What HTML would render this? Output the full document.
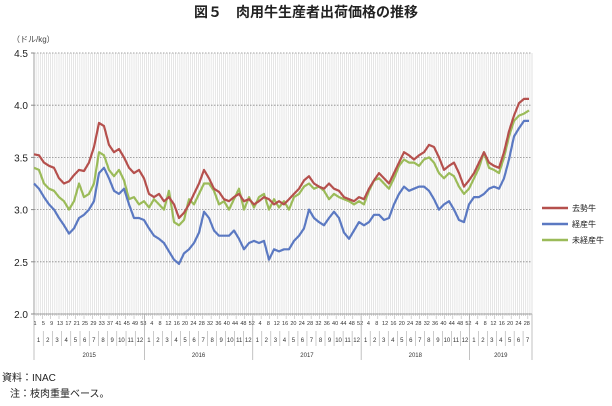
<!DOCTYPE html>
<html><head><meta charset="utf-8">
<style>
body{margin:0;background:#fff;width:612px;height:401px;overflow:hidden;font-family:"Liberation Sans","Noto Sans CJK JP",sans-serif;}
svg text{font-family:"Liberation Sans","Noto Sans CJK JP",sans-serif;}
</style></head>
<body>
<svg id="chart" width="612" height="401" viewBox="0 0 612 401">
<text x="306" y="17" text-anchor="middle" font-size="14" font-weight="bold" fill="#222">図５　肉用牛生産者出荷価格の推移</text>
<text x="12" y="42" font-size="8" fill="#444">（ドル/kg）</text>
<g id="grid"></g>
<g id="axes"></g>
<g id="series"></g>
<g>
<line x1="542" y1="208" x2="568" y2="208" stroke="#b5504d" stroke-width="2.5"/>
<text x="572" y="211" font-size="8" fill="#222">去勢牛</text>
<line x1="542" y1="224" x2="568" y2="224" stroke="#5b79c2" stroke-width="2.5"/>
<text x="572" y="227" font-size="8" fill="#222">経産牛</text>
<line x1="542" y1="240" x2="568" y2="240" stroke="#9bbb59" stroke-width="2.5"/>
<text x="572" y="243" font-size="8" fill="#222">未経産牛</text>
</g>
<text x="2" y="381" font-size="10" fill="#222">資料：INAC</text>
<text x="10" y="397" font-size="10" fill="#222">注：枝肉重量ベース。</text>
</svg>
<script>
const yTicks=[2.0,2.5,3.0,3.5,4.0,4.5];
const years=["2015","2016","2017","2018","2019"];
const yearWeeks=[53,52,52,52,30];
const yearMonths=[12,12,12,12,7];
const steer=[3.53,3.52,3.45,3.42,3.40,3.30,3.25,3.27,3.33,3.38,3.37,3.45,3.60,3.83,3.80,3.62,3.55,3.58,3.50,3.40,3.35,3.38,3.30,3.15,3.12,3.15,3.08,3.12,3.05,2.92,2.97,3.05,3.15,3.25,3.38,3.30,3.20,3.17,3.10,3.08,3.12,3.15,3.08,3.10,3.05,3.08,3.12,3.10,3.05,3.08,3.05,3.10,3.15,3.20,3.28,3.32,3.25,3.22,3.20,3.25,3.20,3.18,3.12,3.10,3.08,3.12,3.10,3.20,3.28,3.35,3.30,3.25,3.35,3.45,3.55,3.52,3.48,3.52,3.55,3.62,3.60,3.50,3.38,3.42,3.45,3.35,3.22,3.28,3.35,3.45,3.55,3.45,3.42,3.40,3.55,3.75,3.90,4.02,4.06,4.06];
const cow=[3.25,3.20,3.12,3.05,3.00,2.92,2.85,2.77,2.82,2.92,2.95,3.00,3.08,3.35,3.40,3.30,3.18,3.15,3.20,3.05,2.92,2.92,2.90,2.82,2.75,2.72,2.68,2.60,2.52,2.48,2.58,2.62,2.68,2.78,2.98,2.92,2.80,2.75,2.75,2.75,2.80,2.72,2.62,2.68,2.70,2.68,2.70,2.52,2.62,2.60,2.62,2.62,2.70,2.75,2.82,3.00,2.92,2.88,2.85,2.92,2.98,2.92,2.78,2.72,2.80,2.88,2.85,2.88,2.95,2.95,2.90,2.92,3.05,3.15,3.22,3.18,3.20,3.22,3.22,3.18,3.10,3.00,3.05,3.08,3.00,2.90,2.88,3.05,3.12,3.12,3.15,3.20,3.22,3.20,3.30,3.48,3.70,3.78,3.85,3.85];
const heifer=[3.40,3.38,3.25,3.20,3.18,3.12,3.08,3.00,3.08,3.25,3.12,3.15,3.25,3.55,3.52,3.38,3.32,3.38,3.28,3.10,3.12,3.05,3.08,3.02,3.10,3.05,3.00,3.18,2.88,2.85,2.90,3.10,3.05,3.15,3.25,3.25,3.18,3.05,3.08,3.00,3.10,3.20,3.00,3.12,3.02,3.12,3.15,3.00,3.10,3.02,3.08,3.00,3.12,3.15,3.22,3.25,3.20,3.22,3.18,3.10,3.15,3.12,3.10,3.08,3.05,3.08,3.05,3.18,3.28,3.30,3.25,3.20,3.30,3.42,3.48,3.45,3.45,3.42,3.48,3.50,3.45,3.35,3.30,3.35,3.32,3.22,3.15,3.20,3.30,3.40,3.55,3.40,3.38,3.35,3.50,3.70,3.85,3.90,3.92,3.95];

const NS="http://www.w3.org/2000/svg";
const X0=34,X1=532,Y0=314,Y1=53;
const totalWeeks=yearWeeks.reduce((a,b)=>a+b,0);
const yScale=v=>Y0-(v-2.0)/(4.5-2.0)*(Y0-Y1);
const wScale=w=>X0+w/totalWeeks*(X1-X0);
const xIdx=(i,n)=>X0+i/(n-1)*(529-X0);
function mk(tag,attrs,parent){const e=document.createElementNS(NS,tag);for(const k in attrs)e.setAttribute(k,attrs[k]);parent.appendChild(e);return e;}
const grid=document.getElementById('grid'),axes=document.getElementById('axes'),series=document.getElementById('series');
// weekly vertical gridlines
for(let w=1;w<totalWeeks;w++){
  const l=mk('line',{x1:wScale(w),x2:wScale(w),y1:Y1,y2:Y0,stroke:'#d6d6d6','stroke-width':0.6},grid);
  
  
}
mk('line',{x1:X1,x2:X1,y1:Y1,y2:Y0,stroke:'#ccc','stroke-width':0.6},grid);
yTicks.forEach(v=>{
  const y=yScale(v);
  const g=mk('line',{x1:X0,x2:X1,y1:y,y2:y,stroke:'#888','stroke-width':0.8,'stroke-dasharray':'1.5,1.5'},grid);
  
  
  const t=mk('text',{x:X0-6,y:y+4,'text-anchor':'end','font-size':10,fill:'#222'},axes);
  t.textContent=v.toFixed(1);
  
  
  mk('line',{x1:X0-3,x2:X0,y1:y,y2:y,stroke:'#888'},axes);
});
mk('line',{x1:X0,x2:X0,y1:Y1,y2:Y0,stroke:'#888','stroke-width':0.8},axes);
mk('line',{x1:X0,x2:X1,y1:Y0,y2:Y0,stroke:'#888','stroke-width':0.8},axes);
// x labels
let wk=0;
years.forEach((yr,yi)=>{
  const nW=yearWeeks[yi],start=wk;
  const xs=wScale(start),xe=wScale(start+nW);
  mk('line',{x1:xs,x2:xs,y1:Y0,y2:360,stroke:'#999','stroke-width':0.6},axes);
  for(let w=0;w<nW;w++){
    const lbl=(yi===0)?(w%4===0?w+1:null):((w+1)%4===0?w+1:null);
    if(lbl!==null){
      const t=mk('text',{x:wScale(start+w+0.5),y:325,'text-anchor':'middle','font-size':5.5,fill:'#333'},axes);
      t.textContent=lbl;
      
      
    }
    mk('line',{x1:wScale(start+w),x2:wScale(start+w),y1:Y0,y2:Y0+(w%4===0?5:2),stroke:'#aaa','stroke-width':0.5},axes);
  }
  const nM=yearMonths[yi];const mw=(yi===4)?(xe-xs)/nM:(xe-xs)/12;
  for(let m=0;m<nM;m++){
    const t=mk('text',{x:xs+mw*(m+0.5),y:342,'text-anchor':'middle','font-size':6,fill:'#333'},axes);
    t.textContent=m+1;
    
    
    if(m>0)mk('line',{x1:xs+mw*m,x2:xs+mw*m,y1:331,y2:346,stroke:'#999','stroke-width':0.5},axes);
  }
  const t=mk('text',{x:(xs+xe)/2,y:357,'text-anchor':'middle','font-size':6,fill:'#333'},axes);
  t.textContent=yr;
  
  
  wk+=nW;
});
mk('line',{x1:X1,x2:X1,y1:Y0,y2:360,stroke:'#999','stroke-width':0.6},axes);
function line(arr,color,name){
  const d=arr.map((v,i)=>(i?'L':'M')+xIdx(i,arr.length).toFixed(1)+','+yScale(v).toFixed(1)).join('');
  const p=mk('path',{d:d,fill:'none',stroke:color,'stroke-width':2.2,'stroke-linejoin':'round'},series);
  
  
}
line(heifer,'#9bbb59','line-heifer');
line(steer,'#b5504d','line-steer');
line(cow,'#5b79c2','line-cow');
</script>
</body></html>
